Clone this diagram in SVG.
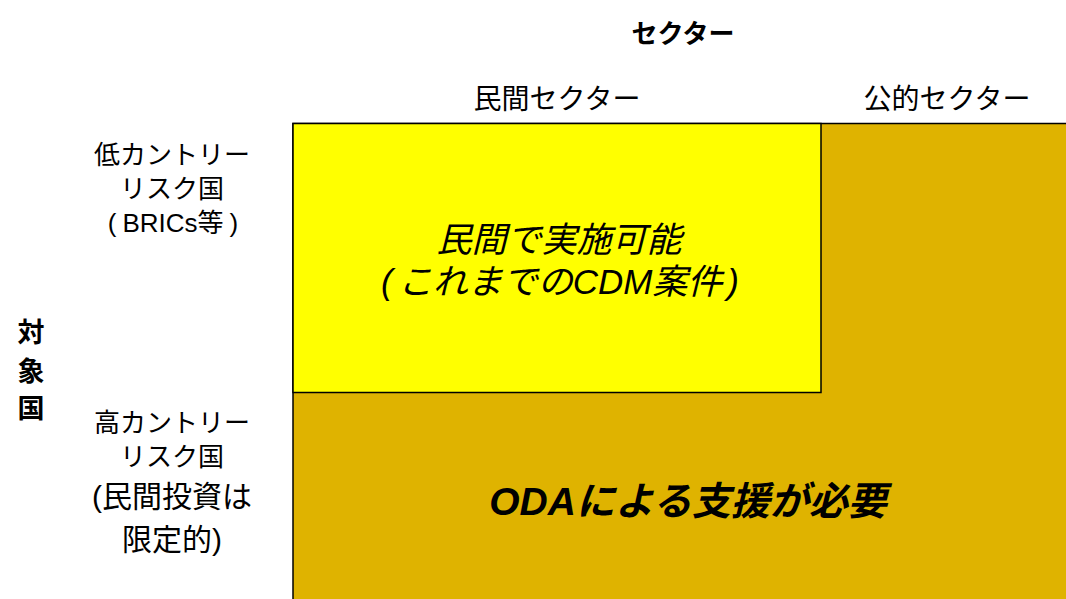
<svg xmlns="http://www.w3.org/2000/svg" width="1066" height="599" viewBox="0 0 1066 599">
<style>
text{font-family:"Liberation Sans","Noto Sans CJK JP",sans-serif;fill:#000;text-anchor:middle}
.h{font-size:26px}
.h2{font-size:30px}
.hh{font-size:28px}
.b{font-weight:bold;font-size:26px}
.v{font-weight:bold;font-size:27px}
.i{font-style:italic;font-size:35px}
.oda{font-style:italic;font-weight:bold;font-size:39px}
</style>
<rect width="1066" height="599" fill="#fff"/>
<g id="public">
<rect x="293" y="123.5" width="780" height="485" fill="#DFB300" stroke="#000" stroke-width="1.5"/>
<text class="oda" x="688" y="515">ODAによる支援が必要</text>
</g>
<g id="private">
<rect x="293" y="123.5" width="528" height="269" fill="#FFFF00" stroke="#000" stroke-width="1.5"/>
<text class="i" x="559" y="252">民間で実施可能</text>
<text class="i" x="560" y="294">(<tspan dx="5">これまでのCDM案件</tspan><tspan dx="5">)</tspan></text>
</g>
<g id="headers">
<text class="b" x="683" y="43">セクター</text>
<text class="hh" x="557" y="109">民間セクター</text>
<text class="hh" x="947" y="109">公的セクター</text>
</g>
<g id="rows">
<text class="h" x="172" y="164">低カントリー</text>
<text class="h" x="172" y="198">リスク国</text>
<text class="h" x="173" y="232">(<tspan dx="6">BRICs等</tspan><tspan dx="6">)</tspan></text>
<text class="h" x="172" y="432">高カントリー</text>
<text class="h" x="172" y="466">リスク国</text>
<text class="h2" x="172" y="507">(民間投資は</text>
<text class="h2" x="172" y="550">限定的)</text>
</g>
<g id="axis">
<text class="v" x="31" y="342">対</text>
<text class="v" x="31" y="381">象</text>
<text class="v" x="31" y="418">国</text>
</g>
</svg>
